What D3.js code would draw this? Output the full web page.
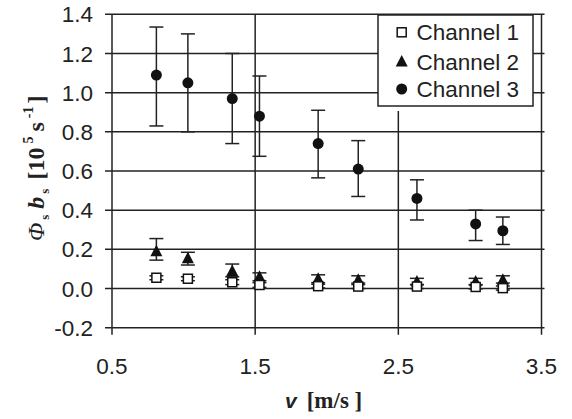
<!DOCTYPE html>
<html><head><meta charset="utf-8">
<script src="https://cdn.jsdelivr.net/npm/d3@7/dist/d3.min.js"></script>
<style>body{margin:0;background:#fff}svg{display:block}</style>
</head><body>
<svg id="c" width="572" height="419"></svg>
<script>
const velocity = [0.81, 1.03, 1.34, 1.53, 1.94, 2.22, 2.63, 3.04, 3.23];
const ch1 = [0.055, 0.05, 0.032, 0.018, 0.012, 0.01, 0.01, 0.008, 0.002];
const ch1Hi = [0.065, 0.06, 0.045, 0.03, 0.022, 0.02, 0.02, 0.018, 0.013];
const ch1Lo = [0.045, 0.04, 0.02, 0.006, 0.003, 0.0, 0.0, -0.002, -0.008];
const ch2 = [0.19, 0.155, 0.09, 0.06, 0.05, 0.045, 0.036, 0.036, 0.045];
const ch2Hi = [0.255, 0.185, 0.125, 0.08, 0.07, 0.065, 0.052, 0.052, 0.065];
const ch2Lo = [0.145, 0.12, 0.06, 0.04, 0.03, 0.028, 0.02, 0.02, 0.028];
const ch3 = [1.09, 1.05, 0.97, 0.88, 0.74, 0.61, 0.46, 0.33, 0.295];
const ch3Hi = [1.335, 1.30, 1.20, 1.085, 0.91, 0.755, 0.555, 0.40, 0.365];
const ch3Lo = [0.83, 0.80, 0.74, 0.675, 0.565, 0.47, 0.35, 0.245, 0.225];
const seriesNames = ["Channel 1", "Channel 2", "Channel 3"];
const xTicks = [0.5, 1.5, 2.5, 3.5];
const xTickLabels = ["0.5", "1.5", "2.5", "3.5"];
const yTicks = [-0.2, 0, 0.2, 0.4, 0.6, 0.8, 1.0, 1.2, 1.4];
const yTickLabels = ["-0.2", "0.0", "0.2", "0.4", "0.6", "0.8", "1.0", "1.2", "1.4"];

const svg = d3.select("#c");
const L = 112, R = 541.5, T = 14.3, B = 327.7;
const x = d3.scaleLinear().domain([0.5, 3.5]).range([L, R]);
const y = d3.scaleLinear().domain([-0.2, 1.4]).range([B, T]);
const ink = "#222";
const sans = "'Liberation Sans', Arial, sans-serif";
const serif = "'Liberation Serif', 'Times New Roman', serif";

// horizontal gridlines with left ticks
svg.append("g").selectAll("line").data(yTicks).join("line")
  .attr("x1", L - 7).attr("x2", R + 3)
  .attr("y1", d => y(d)).attr("y2", d => y(d))
  .attr("stroke", ink).attr("stroke-width", 1.5);
// vertical lines
svg.append("g").selectAll("line").data(xTicks).join("line")
  .attr("x1", d => x(d)).attr("x2", d => x(d))
  .attr("y1", T).attr("y2", B + 7)
  .attr("stroke", ink).attr("stroke-width", 1.5);

// tick labels
svg.append("g").selectAll("text").data(yTicks).join("text")
  .attr("x", 93).attr("y", d => y(d)).attr("dy", "0.36em")
  .attr("text-anchor", "end").attr("font-family", sans).attr("font-size", 22.5)
  .attr("fill", ink).text((d, i) => yTickLabels[i]);
svg.append("g").selectAll("text").data(xTicks).join("text")
  .attr("x", d => x(d)).attr("y", 373.5)
  .attr("text-anchor", "middle").attr("font-family", sans).attr("font-size", 22.5)
  .attr("fill", ink).text((d, i) => xTickLabels[i]);

const series = [
  {name: seriesNames[0], v: ch1, hi: ch1Hi, lo: ch1Lo, shape: "square"},
  {name: seriesNames[1], v: ch2, hi: ch2Hi, lo: ch2Lo, shape: "triangle"},
  {name: seriesNames[2], v: ch3, hi: ch3Hi, lo: ch3Lo, shape: "circle"}
];

function marker(g, shape, cx, cy) {
  if (shape === "square") {
    g.append("rect").attr("x", cx - 4.5).attr("y", cy - 4.5).attr("width", 9).attr("height", 9)
      .attr("fill", "#fff").attr("stroke", "#111").attr("stroke-width", 1.5);
  } else if (shape === "triangle") {
    g.append("path").attr("d", `M${cx},${cy - 6.5}L${cx + 6},${cy + 5}L${cx - 6},${cy + 5}Z`)
      .attr("fill", "#111");
  } else {
    g.append("circle").attr("cx", cx).attr("cy", cy).attr("r", 5.5).attr("fill", "#111");
  }
}

const dataG = svg.append("g");
[2, 1, 0].forEach(si => {
  const s = series[si];
  const g = dataG.append("g");
  velocity.forEach((vv, i) => {
    const cx = x(vv);
    g.append("line").attr("x1", cx).attr("x2", cx).attr("y1", y(s.hi[i])).attr("y2", y(s.lo[i]))
      .attr("stroke", ink).attr("stroke-width", 1.5);
    [s.hi[i], s.lo[i]].forEach(e => g.append("line").attr("x1", cx - 7).attr("x2", cx + 7)
      .attr("y1", y(e)).attr("y2", y(e)).attr("stroke", ink).attr("stroke-width", 1.5));
  });
  velocity.forEach((vv, i) => marker(g, s.shape, x(vv), y(s.v[i])));
});

// legend
const lg = svg.append("g");
lg.append("rect").attr("x", 378).attr("y", 15).attr("width", 155).attr("height", 96).attr("fill", "#fff");
lg.append("rect").attr("x", 378).attr("y", 15).attr("width", 155).attr("height", 91)
  .attr("fill", "#fff").attr("stroke", ink).attr("stroke-width", 1.5);
const ly = [32.3, 61.5, 89];
series.forEach((s, i) => {
  marker(lg, s.shape, 401.7, ly[i]);
  lg.append("text").attr("x", 416.5).attr("y", ly[i]).attr("dy", "0.36em")
    .attr("font-family", sans).attr("font-size", 22.5).attr("fill", ink).text(s.name);
});

// x title
const xt = svg.append("text").attr("x", 285).attr("y", 408).attr("fill", ink);
xt.append("tspan").attr("font-family", sans).attr("font-weight", "bold").attr("font-style", "italic")
  .attr("font-size", 21).text("v");
xt.append("tspan").attr("font-family", serif).attr("font-weight", "bold").attr("font-size", 23)
  .attr("dx", 10).text("[m/s ]");

// y title
const yt = svg.append("text").attr("transform", "translate(44,241) rotate(-90)")
  .attr("fill", ink).attr("font-family", serif).attr("font-size", 24).attr("font-weight", "bold");
yt.append("tspan").attr("font-style", "italic").attr("font-weight", "normal").text("Φ");
yt.append("tspan").attr("font-size", 13).attr("dy", 5).attr("dx", 3).text("s");
yt.append("tspan").attr("font-style", "italic").attr("dy", -5).attr("dx", 6).text("b");
yt.append("tspan").attr("font-size", 13).attr("dy", 5).attr("dx", 3).text("s");
yt.append("tspan").attr("dy", -5).attr("dx", 9).text("[10");
yt.append("tspan").attr("font-size", 14).attr("dy", -11).attr("dx", 4).text("5");
yt.append("tspan").attr("dy", 11).attr("dx", 5).text("s");
yt.append("tspan").attr("font-size", 14).attr("dy", -11).attr("dx", 4).text("-1");
yt.append("tspan").attr("dy", 11).attr("dx", 3).text("]");
</script>
</body></html>
